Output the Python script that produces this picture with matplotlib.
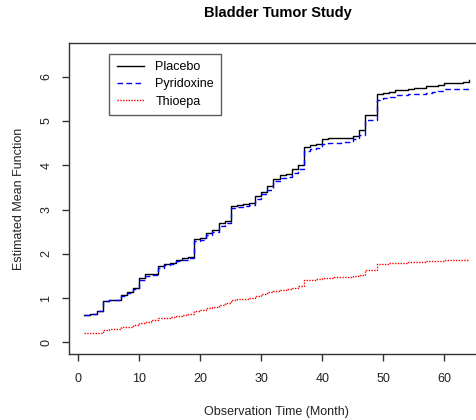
import matplotlib
matplotlib.use("Agg")
import matplotlib.pyplot as plt

months = list(range(1, 65))

placebo = [0.63, 0.65, 0.72, 0.94, 0.96, 0.97, 1.07, 1.13, 1.22, 1.45,
           1.54, 1.55, 1.72, 1.77, 1.80, 1.86, 1.90, 1.93, 2.34, 2.36,
           2.47, 2.55, 2.70, 2.75, 3.09, 3.10, 3.12, 3.14, 3.30, 3.40,
           3.53, 3.70, 3.79, 3.81, 3.92, 4.01, 4.42, 4.46, 4.47, 4.59,
           4.61, 4.61, 4.62, 4.62, 4.66, 4.79, 5.13, 5.14, 5.60, 5.64,
           5.66, 5.71, 5.71, 5.72, 5.74, 5.75, 5.78, 5.79, 5.82, 5.85,
           5.86, 5.86, 5.87, 5.93]

pyridoxine = [0.62, 0.64, 0.71, 0.93, 0.95, 0.96, 1.05, 1.11, 1.20, 1.42,
              1.51, 1.53, 1.69, 1.74, 1.78, 1.83, 1.87, 1.91, 2.30, 2.32,
              2.42, 2.50, 2.64, 2.70, 3.03, 3.05, 3.07, 3.10, 3.24, 3.35,
              3.45, 3.64, 3.71, 3.73, 3.82, 3.92, 4.32, 4.36, 4.38, 4.49,
              4.51, 4.51, 4.53, 4.53, 4.59, 4.68, 5.02, 5.03, 5.48, 5.51,
              5.54, 5.59, 5.59, 5.60, 5.62, 5.62, 5.64, 5.65, 5.68, 5.72,
              5.72, 5.73, 5.73, 5.74]

thioepa = [0.21, 0.21, 0.22, 0.29, 0.30, 0.31, 0.34, 0.36, 0.40, 0.44,
           0.47, 0.50, 0.55, 0.56, 0.58, 0.60, 0.62, 0.65, 0.71, 0.74,
           0.77, 0.80, 0.84, 0.88, 0.97, 0.98, 0.99, 1.01, 1.06, 1.09,
           1.13, 1.17, 1.19, 1.21, 1.24, 1.27, 1.40, 1.42, 1.43, 1.46,
           1.46, 1.47, 1.47, 1.48, 1.49, 1.53, 1.63, 1.64, 1.77, 1.78,
           1.79, 1.80, 1.80, 1.81, 1.82, 1.82, 1.83, 1.84, 1.85, 1.86,
           1.87, 1.87, 1.87, 1.87]

x_ticks = [0, 10, 20, 30, 40, 50, 60]
y_ticks = [0, 1, 2, 3, 4, 5, 6]

plt.rcParams['font.family'] = ['Liberation Sans', 'DejaVu Sans']

fig = plt.figure(figsize=(4.76, 4.20), dpi=100)
ax = fig.add_axes([69 / 476, 1 - 354 / 420, 415 / 476, 311 / 420])

ax.step(months, placebo, where='post', color='black', lw=1, label='Placebo')
ax.step(months, pyridoxine, where='post', color='blue', lw=1,
        linestyle=(0, (4, 2.5)), label='Pyridoxine')
ax.step(months, thioepa, where='post', color='red', lw=1,
        linestyle=(0, (1, 1)), label='Thioepa')

ax.set_xlim(-1.52, 66.52)
ax.set_ylim(-0.26, 6.76)
ax.set_xticks(x_ticks)
ax.set_yticks(y_ticks)
ax.tick_params(direction='out', length=5, width=1, labelsize=9,
               color='#333333', labelcolor='#222222')
ax.tick_params(axis='x', pad=9)
ax.tick_params(axis='y', pad=7)
for lab in ax.get_yticklabels():
    lab.set_rotation(90)
    lab.set_va('center')
for s in ax.spines.values():
    s.set_color('#333333')
    s.set_linewidth(1)

ax.set_xlabel('Observation Time (Month)', fontsize=9, labelpad=15, color='#222222')
ax.set_ylabel('Estimated Mean Function', fontsize=9, labelpad=11, color='#222222')
fig.text(278 / 476, 1 - 13 / 420, 'Bladder Tumor Study', ha='center', va='center',
         fontsize=10.5, fontweight='bold')

leg = ax.legend(loc='upper left', bbox_to_anchor=(40 / 415, 1 - 11 / 311),
                fontsize=9, frameon=True, fancybox=False, borderaxespad=0,
                handlelength=2.2, handletextpad=0.9, labelspacing=0.4,
                borderpad=0.6)
leg.get_frame().set_edgecolor('#333333')
leg.get_frame().set_linewidth(1)

fig.savefig('out.png', dpi=100)
